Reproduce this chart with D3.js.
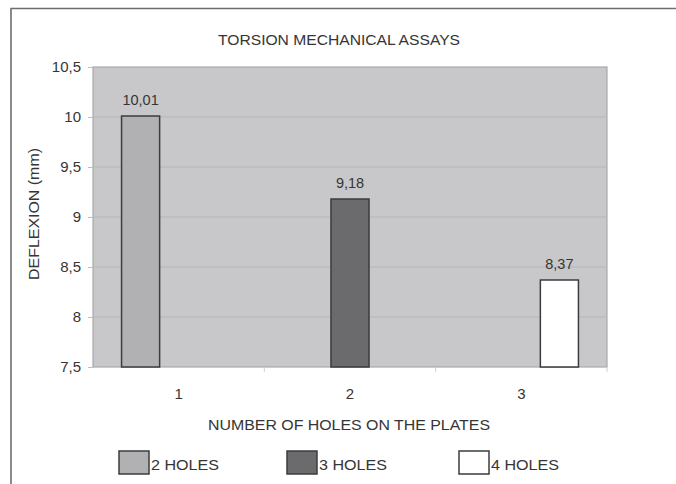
<!DOCTYPE html>
<html>
<head>
<meta charset="utf-8">
<script src="https://cdn.jsdelivr.net/npm/d3@7"></script>
<style>
  html, body { margin: 0; padding: 0; background: #fff; }
  svg { display: block; font-family: "Liberation Sans", Arial, sans-serif; }
</style>
</head>
<body>
<svg id="chart" width="676" height="484"></svg>
<script>
// Torsion assay results: deflection per plate configuration
const categories = ["1", "2", "3"];
const seriesNames = ["2 HOLES", "3 HOLES", "4 HOLES"];
const seriesColors = ["#b1b1b3", "#6b6b6d", "#ffffff"];
// one value per category for each series (null = no bar)
const values2Holes = [10.01, null, null];
const values3Holes = [null, 9.18, null];
const values4Holes = [null, null, 8.37];
const yTicks = [7.5, 8, 8.5, 9, 9.5, 10, 10.5];

const seriesValues = [values2Holes, values3Holes, values4Holes];

const svg = d3.select("#chart");
const plot = { left: 93, top: 67, right: 607, bottom: 367 };
const textColor = "#353535";
const fmt = v => String(v).replace(".", ",");

// outer frame (top and left edges)
svg.append("path")
  .attr("d", "M11,484 V8.5 H676")
  .attr("fill", "none")
  .attr("stroke", "#6e6e6e")
  .attr("stroke-width", 1.6);

const x0 = d3.scaleBand().domain(categories).range([plot.left, plot.right]).padding(0);
const x1 = d3.scaleBand().domain(d3.range(seriesNames.length))
  .range([x0.bandwidth() / 6, x0.bandwidth() * 5 / 6]).padding(0);
const y = d3.scaleLinear().domain([7.5, 10.5]).range([plot.bottom, plot.top]);

// plot background
svg.append("rect")
  .attr("x", plot.left).attr("y", plot.top)
  .attr("width", plot.right - plot.left).attr("height", plot.bottom - plot.top)
  .attr("fill", "#c8c8ca")
  .attr("stroke", "#a9a9ab").attr("stroke-width", 1.2);

// horizontal gridlines
svg.append("g").selectAll("line")
  .data(yTicks.slice(1, -1))
  .join("line")
  .attr("x1", plot.left).attr("x2", plot.right)
  .attr("y1", d => y(d)).attr("y2", d => y(d))
  .attr("stroke", "#b6b6b8").attr("stroke-width", 1);

// y axis
const yAxis = svg.append("g")
  .attr("transform", `translate(${plot.left},0)`)
  .call(d3.axisLeft(y).tickValues(yTicks).tickFormat(fmt).tickSize(5).tickPadding(7));
yAxis.select(".domain").remove();
yAxis.selectAll(".tick line").attr("stroke", "#bdbdbd");
yAxis.selectAll(".tick text")
  .attr("fill", textColor).attr("font-size", 15)
  .attr("font-family", "Liberation Sans, Arial, sans-serif");

// x axis with category separators
const xAxis = svg.append("g")
  .attr("transform", `translate(0,${plot.bottom})`)
  .call(d3.axisBottom(x0).tickSize(0).tickPadding(21));
xAxis.select(".domain").remove();
xAxis.selectAll(".tick text")
  .attr("fill", textColor).attr("font-size", 15)
  .attr("font-family", "Liberation Sans, Arial, sans-serif");
svg.append("g").selectAll("line")
  .data(categories.slice(1).concat(["end"]))
  .join("line")
  .attr("x1", (d, i) => i < categories.length - 1 ? x0(d) : plot.right)
  .attr("x2", (d, i) => i < categories.length - 1 ? x0(d) : plot.right)
  .attr("y1", plot.bottom).attr("y2", plot.bottom + 5)
  .attr("stroke", "#d0d0d0");

// bars
const barData = [];
seriesValues.forEach((vals, s) => vals.forEach((v, c) => {
  if (v !== null) barData.push({ cat: categories[c], s, v });
}));
svg.append("g").selectAll("rect")
  .data(barData)
  .join("rect")
  .attr("x", d => x0(d.cat) + x1(d.s))
  .attr("y", d => y(d.v))
  .attr("width", x1.bandwidth())
  .attr("height", d => y(7.5) - y(d.v))
  .attr("fill", d => seriesColors[d.s])
  .attr("stroke", "#3c3c3c").attr("stroke-width", 1.5);

// value labels
svg.append("g").selectAll("text")
  .data(barData)
  .join("text")
  .attr("x", d => x0(d.cat) + x1(d.s) + x1.bandwidth() / 2)
  .attr("y", d => y(d.v) - 11)
  .attr("text-anchor", "middle")
  .attr("fill", textColor).attr("font-size", 14.5)
  .text(d => fmt(d.v));

// titles
svg.append("text")
  .attr("x", 339).attr("y", 45)
  .attr("text-anchor", "middle")
  .attr("fill", textColor).attr("font-size", 14.5)
  .attr("textLength", 242).attr("lengthAdjust", "spacingAndGlyphs")
  .text("TORSION MECHANICAL ASSAYS");

svg.append("text")
  .attr("transform", `translate(39,${(plot.top + plot.bottom) / 2 - 3}) rotate(-90)`)
  .attr("text-anchor", "middle")
  .attr("fill", textColor).attr("font-size", 15)
  .attr("textLength", 132).attr("lengthAdjust", "spacingAndGlyphs")
  .text("DEFLEXION (mm)");

svg.append("text")
  .attr("x", 349).attr("y", 430)
  .attr("text-anchor", "middle")
  .attr("fill", textColor).attr("font-size", 15.5)
  .attr("textLength", 282).attr("lengthAdjust", "spacingAndGlyphs")
  .text("NUMBER OF HOLES ON THE PLATES");

// legend
const legendX = [119, 287, 459];
const legend = svg.append("g").selectAll("g")
  .data(seriesNames)
  .join("g")
  .attr("transform", (d, i) => `translate(${legendX[i]},451)`);
legend.append("rect")
  .attr("width", 30).attr("height", 23)
  .attr("fill", (d, i) => seriesColors[i])
  .attr("stroke", "#3c3c3c").attr("stroke-width", 1.5);
legend.append("text")
  .attr("x", 32).attr("y", 18.5)
  .attr("fill", textColor).attr("font-size", 15.5)
  .attr("textLength", 68).attr("lengthAdjust", "spacingAndGlyphs")
  .text(d => d);
</script>
</body>
</html>
